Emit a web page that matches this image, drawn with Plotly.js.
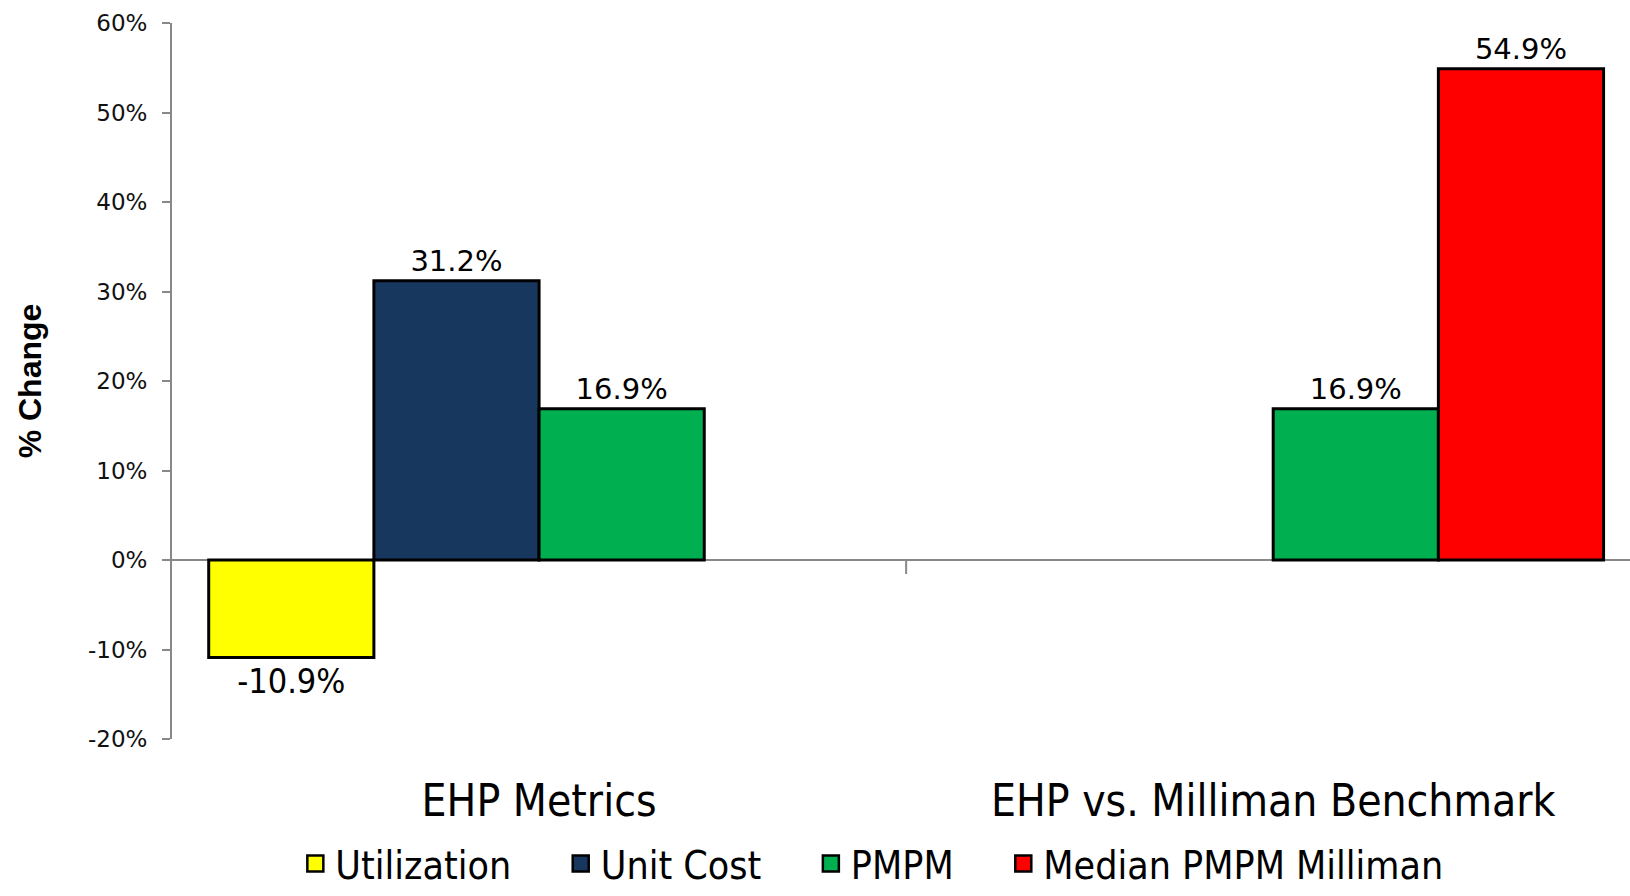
<!DOCTYPE html>
<html>
<head>
<meta charset="utf-8">
<script src="https://cdn.plot.ly/plotly-3.0.1.min.js"></script>
<style>html,body{margin:0;padding:0;background:#fff;}#chart{width:1630px;height:896px;}</style>
</head>
<body>
<div id="chart"></div>
<script>
const categories = ["EHP Metrics", "EHP vs. Milliman Benchmark"];
const seriesNames = ["Utilization", "Unit Cost", "PMPM", "Median PMPM Milliman"];
const utilization = [-10.9, null];
const unitCost = [31.2, null];
const pmpm = [16.9, 16.9];
const medianPmpmMilliman = [null, 54.9];
const seriesValues = [utilization, unitCost, pmpm, medianPmpmMilliman];
const seriesColors = ["#FFFF00", "#17375E", "#00B050", "#FF0000"];
const yTickVals = [-20, -10, 0, 10, 20, 30, 40, 50, 60];
const yTickText = ["-20%", "-10%", "0%", "10%", "20%", "30%", "40%", "50%", "60%"];

const narrow = "'DejaVu Sans Condensed', 'Liberation Sans Narrow', sans-serif";
const verd = "'DejaVu Sans', Verdana, sans-serif";
const pad = "\u00a0\u00a0\u00a0\u00a0";

const barTraces = seriesNames.map((name, i) => ({
  type: "bar",
  name: name,
  legendgroup: name,
  showlegend: false,
  x: categories,
  y: seriesValues[i],
  marker: {color: seriesColors[i], line: {color: "#000", width: 3}},
  texttemplate: "%{y:.1f}%",
  textposition: "outside",
  cliponaxis: false,
  textfont: i === 0 ? {family: narrow, size: 34, color: "#000"} : {family: verd, size: 29, color: "#000"},
  hoverinfo: "skip"
}));

// legend-only entries (larger square swatches, like the original legend)
const legendTraces = seriesNames.map((name, i) => ({
  type: "scatter",
  mode: "markers",
  name: name + (i < seriesNames.length - 1 ? pad : ""),
  legendgroup: name,
  showlegend: true,
  x: [null],
  y: [null],
  marker: {symbol: "square", size: 16, color: seriesColors[i], line: {color: "#000", width: 2.5}},
  hoverinfo: "skip"
}));

const layout = {
  width: 1630, height: 896,
  margin: {l: 172, r: 0, t: 23, b: 157},
  paper_bgcolor: "#fff", plot_bgcolor: "#fff",
  barmode: "group",
  bargap: 0.1,
  bargroupgap: 0,
  showlegend: true,
  legend: {
    orientation: "h", x: 0.48, xanchor: "center",
    yref: "container", y: 0.036, yanchor: "middle",
    font: {family: narrow, size: 39, color: "#000"},
    itemclick: false, itemdoubleclick: false
  },
  xaxis: {
    type: "category",
    range: [-0.5, 1.486],
    showline: false, showgrid: false, zeroline: false,
    ticks: "", ticklabelstandoff: 32,
    tickfont: {family: narrow, size: 44, color: "#000"},
    fixedrange: true
  },
  yaxis: {
    range: [-20, 60],
    tickvals: yTickVals, ticktext: yTickText,
    showline: true, linecolor: "#888", linewidth: 2,
    ticks: "outside", ticklen: 8, tickcolor: "#888", tickwidth: 2,
    ticklabelstandoff: 10,
    showgrid: false,
    zeroline: true, zerolinecolor: "#888", zerolinewidth: 2,
    tickfont: {family: verd, size: 23, color: "#111"},
    title: {text: "% Change", standoff: 37, font: {family: "'Liberation Sans Narrow', 'Liberation Sans', Arial, sans-serif", size: 32, color: "#000", weight: "bold"}},
    fixedrange: true
  },
  shapes: [{
    type: "line", xref: "x", yref: "y", x0: 0.5, x1: 0.5,
    ysizemode: "pixel", yanchor: 0, y0: 0, y1: -14,
    line: {color: "#888", width: 2}
  }]
};

Plotly.newPlot("chart", barTraces.concat(legendTraces), layout, {displayModeBar: false, staticPlot: true});
</script>
</body>
</html>
